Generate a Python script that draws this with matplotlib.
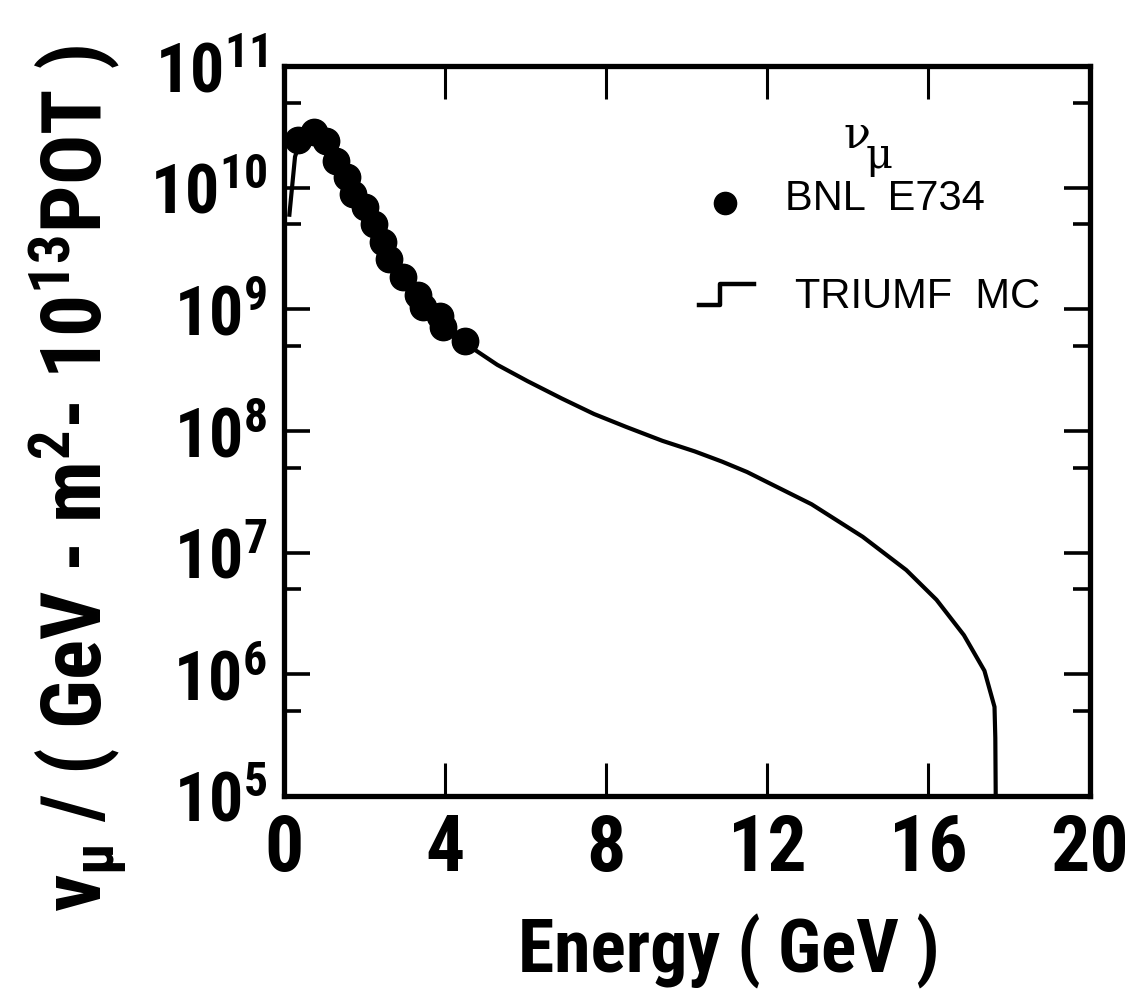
import matplotlib
matplotlib.use("Agg")
import matplotlib.pyplot as plt
from matplotlib import font_manager
from matplotlib.ticker import FixedLocator, NullFormatter

# BNL E734 measured flux (dots)
bnl_E = [0.35, 0.76, 1.04, 1.29, 1.57, 1.71, 2.01, 2.24, 2.47, 2.61, 2.96, 3.33, 3.45, 3.88, 3.95, 4.49]
bnl_flux = [2.45e10, 2.88e10, 2.40e10, 1.66e10, 1.23e10, 8.9e9, 6.9e9, 5.0e9, 3.55e9, 2.57e9,
            1.86e9, 1.32e9, 1.05e9, 8.9e8, 7.1e8, 5.5e8]

# TRIUMF MC curve
mc_E = [0.14, 0.28, 0.45, 0.75, 1.0, 1.3, 1.6, 2.0, 2.5, 3.0, 3.5, 4.0, 4.49, 4.64, 5.3, 6.05,
        6.9, 7.70, 8.5, 9.4, 10.2, 10.88, 11.5, 12.0, 13.1, 14.37, 15.45, 16.2, 16.88, 17.39,
        17.64, 17.66, 17.67]
mc_flux = [6.0e9, 1.8e10, 2.6e10, 2.95e10, 2.5e10, 1.66e10, 1.17e10, 6.9e9, 3.5e9, 1.78e9,
           1.12e9, 7.8e8, 5.5e8, 4.9e8, 3.5e8, 2.57e8, 1.85e8, 1.38e8, 1.08e8, 8.3e7, 6.8e7,
           5.6e7, 4.6e7, 3.8e7, 2.5e7, 1.35e7, 7.2e6, 4.1e6, 2.1e6, 1.07e6, 5.4e5, 3.0e5, 1.0e5]

xticks = [0, 4, 8, 12, 16, 20]
xticklabels = ["0", "4", "8", "12", "16", "20"]
ydecades = [1e5, 1e6, 1e7, 1e8, 1e9, 1e10, 1e11]
yticklabels = [r"$10^{5}$", r"$10^{6}$", r"$10^{7}$", r"$10^{8}$", r"$10^{9}$", r"$10^{10}$", r"$10^{11}$"]
yminor = [5e5, 5e6, 5e7, 5e8, 5e9, 5e10]

names = {f.name for f in font_manager.fontManager.ttflist}
cond = "Liberation Sans"
for cand in ["Roboto Condensed", "Open Sans Condensed", "Liberation Sans Narrow", "DejaVu Sans Condensed"]:
    if cand in names:
        cond = cand
        break
is_cond = cond != "Liberation Sans"
k = 1.0 if is_cond else 0.85

plt.rcParams["font.family"] = [cond, "DejaVu Sans"]
plt.rcParams["mathtext.fontset"] = "custom"
plt.rcParams["mathtext.rm"] = cond + ":bold"
plt.rcParams["mathtext.it"] = cond + ":bold"
plt.rcParams["mathtext.bf"] = cond + ":bold"
plt.rcParams["mathtext.sf"] = cond + ":bold"

fig = plt.figure(figsize=(11.35, 10.02), dpi=100)
ax = fig.add_axes([0.250, 0.2056, 0.710, 0.7285])

ax.plot(mc_E, mc_flux, color="black", lw=3.0, solid_joinstyle="round")
ax.plot(bnl_E, bnl_flux, "o", color="black", ms=19, ls="none")

ax.set_yscale("log")
ax.set_xlim(0, 20)
ax.set_ylim(1e5, 1e11)

for s in ax.spines.values():
    s.set_linewidth(3.8)

ax.set_xticks(xticks)
ax.set_xticklabels(xticklabels, fontsize=56 * k, fontweight="bold")
ax.yaxis.set_major_locator(FixedLocator(ydecades))
ax.set_yticklabels(yticklabels, fontsize=49 * k)
ax.yaxis.set_minor_locator(FixedLocator(yminor))
ax.yaxis.set_minor_formatter(NullFormatter())

ax.tick_params(axis="x", which="major", direction="in", length=24, width=2.2, top=True, pad=12)
ax.tick_params(axis="y", which="major", direction="in", length=19, width=2.6, right=True, pad=12)
ax.tick_params(axis="y", which="minor", direction="in", length=12, width=2.6, right=True)

# legend
ax.text(0.711, 0.905, "ν", transform=ax.transAxes, fontsize=32, family="DejaVu Serif",
        ha="center", va="center")
ax.text(0.739, 0.877, "μ", transform=ax.transAxes, fontsize=30, family="DejaVu Serif",
        ha="center", va="center")
ax.plot([0.547], [0.813], "o", color="black", ms=16, transform=ax.transAxes)
ax.text(0.622, 0.818, "BNL  E734", transform=ax.transAxes, fontsize=30,
        family="Liberation Sans", ha="left", va="center")
ax.plot([0.515, 0.541, 0.541, 0.584], [0.672, 0.672, 0.701, 0.701], color="black", lw=3.2,
        transform=ax.transAxes)
ax.text(0.634, 0.683, "TRIUMF  MC", transform=ax.transAxes, fontsize=30,
        family="Liberation Sans", ha="left", va="center")

fig.text(0.642, 0.05, "Energy ( GeV )", fontsize=53 * k, fontweight="bold", ha="center", va="center")
fig.text(0.068, 0.522, r"$\nu_{\mu}$ / ( GeV - m$^{2}$- 10$^{13}$POT )", fontsize=60 * k,
         fontweight="bold", rotation=90, ha="center", va="center")

fig.savefig("out.png", dpi=100)
